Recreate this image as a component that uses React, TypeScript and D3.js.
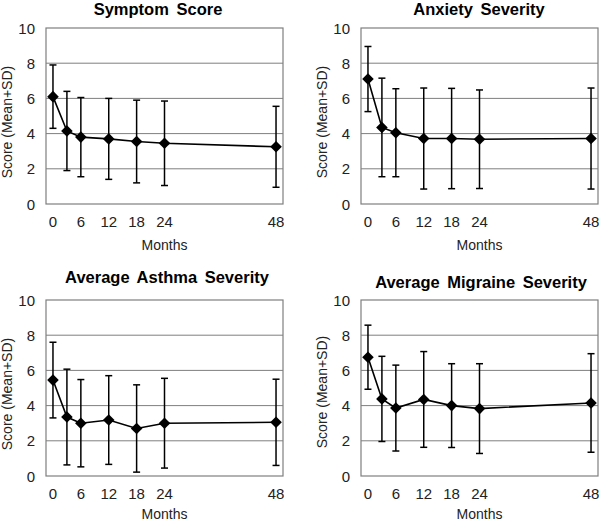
import React from "react";
import * as d3 from "d3";

const months = [0, 3, 6, 12, 18, 24, 48];
const xTickLabels = [0, 6, 12, 18, 24, 48];
const yTicks = [0, 2, 4, 6, 8, 10];

const titles = ["Symptom Score", "Anxiety Severity", "Average Asthma Severity", "Average Migraine Severity"];

const symptomMean = [6.1, 4.15, 3.8, 3.7, 3.55, 3.45, 3.25];
const symptomSD = [1.8, 2.25, 2.25, 2.3, 2.35, 2.4, 2.3];

const anxietyMean = [7.1, 4.35, 4.05, 3.72, 3.72, 3.68, 3.72];
const anxietySD = [1.85, 2.8, 2.5, 2.87, 2.85, 2.8, 2.87];

const asthmaMean = [5.45, 3.35, 3.0, 3.18, 2.7, 3.0, 3.05];
const asthmaSD = [2.15, 2.72, 2.48, 2.52, 2.48, 2.55, 2.45];

const migraineMean = [6.75, 4.38, 3.86, 4.35, 4.0, 3.83, 4.15];
const migraineSD = [1.82, 2.42, 2.44, 2.72, 2.38, 2.55, 2.8];

const series = [
  { mean: symptomMean, sd: symptomSD },
  { mean: anxietyMean, sd: anxietySD },
  { mean: asthmaMean, sd: asthmaSD },
  { mean: migraineMean, sd: migraineSD },
];

// layout per panel
const panels = [
  { left: 46, top: 28, titleX: 158, titleY: 15, yLabelX: 12, yLabelY: 122 },
  { left: 361, top: 28, titleX: 479, titleY: 15, yLabelX: 327, yLabelY: 122 },
  { left: 46, top: 300, titleX: 167, titleY: 283, yLabelX: 12, yLabelY: 394 },
  { left: 361, top: 300, titleX: 481, titleY: 288, yLabelX: 327, yLabelY: 392 },
];
const plotW = 237;
const plotH = 176;

const font = "'Liberation Sans', Arial, sans-serif";

function Panel({ idx }: { idx: number }) {
  const p = panels[idx];
  const s = series[idx];
  const x = d3.scaleLinear().domain([-1.5, 49.5]).range([p.left, p.left + plotW]);
  const y = d3.scaleLinear().domain([0, 10]).range([p.top + plotH, p.top]);
  const bottom = p.top + plotH;
  const line = d3
    .line<number>()
    .x((_, i) => x(months[i]))
    .y((d) => y(d));
  const cap = 3.5;
  const dm = 5.8;
  return (
    <g>
      <text
        x={p.titleX}
        y={p.titleY}
        textAnchor="middle"
        fontFamily={font}
        fontWeight="bold"
        fontSize={16.5}
        wordSpacing={3}
        fill="#000"
      >
        {titles[idx]}
      </text>
      {yTicks.slice(1, 5).map((t) => (
        <line key={t} x1={p.left} x2={p.left + plotW} y1={y(t)} y2={y(t)} stroke="#7f7f7f" strokeWidth={1} />
      ))}
      <rect x={p.left} y={p.top} width={plotW} height={plotH} fill="none" stroke="#7f7f7f" strokeWidth={1.2} />
      {yTicks.map((t) => (
        <text key={t} x={p.left - 11} y={y(t) + 5.5} textAnchor="end" fontFamily={font} fontSize={15} fill="#222">
          {t}
        </text>
      ))}
      {xTickLabels.map((t) => (
        <text key={t} x={x(t)} y={bottom + 23} textAnchor="middle" fontFamily={font} fontSize={15} fill="#222">
          {t}
        </text>
      ))}
      <text
        x={p.left + plotW / 2}
        y={bottom + (idx < 2 ? 46 : 43)}
        textAnchor="middle"
        fontFamily={font}
        fontSize={14}
        fill="#222"
      >
        Months
      </text>
      <text
        transform={`translate(${p.yLabelX},${p.yLabelY}) rotate(-90)`}
        textAnchor="middle"
        fontFamily={font}
        fontSize={14}
        fill="#222"
      >
        Score (Mean+SD)
      </text>
      {s.mean.map((m, i) => {
        const cx = x(months[i]);
        const hi = y(m + s.sd[i]);
        const lo = y(m - s.sd[i]);
        return (
          <g key={i} stroke="#000" strokeWidth={1.5}>
            <line x1={cx} x2={cx} y1={hi} y2={lo} />
            <line x1={cx - cap} x2={cx + cap} y1={hi} y2={hi} />
            <line x1={cx - cap} x2={cx + cap} y1={lo} y2={lo} />
          </g>
        );
      })}
      <path d={line(s.mean) || ""} fill="none" stroke="#000" strokeWidth={1.6} />
      {s.mean.map((m, i) => {
        const cx = x(months[i]);
        const cy = y(m);
        return (
          <path
            key={i}
            d={`M${cx},${cy - dm}L${cx + dm},${cy}L${cx},${cy + dm}L${cx - dm},${cy}Z`}
            fill="#000"
          />
        );
      })}
    </g>
  );
}

export default function App() {
  return (
    <svg width={600} height={523} style={{ position: "absolute", left: 0, top: 0, background: "#fff" }}>
      <rect x={0} y={0} width={600} height={523} fill="#fff" />
      {panels.map((_, i) => (
        <Panel key={i} idx={i} />
      ))}
    </svg>
  );
}
